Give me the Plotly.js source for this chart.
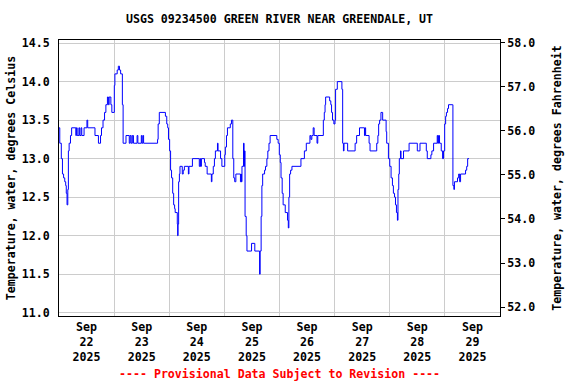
<!DOCTYPE html>
<html>
<head>
<meta charset="utf-8">
<script src="https://cdn.plot.ly/plotly-3.0.1.min.js"></script>
<style>
html,body{margin:0;padding:0;background:#ffffff;}
#chart{width:576px;height:384px;}
</style>
</head>
<body>
<div id="chart"></div>
<script>
const times = [
"2025-09-22 00:00","2025-09-22 00:20","2025-09-22 01:00","2025-09-22 01:30","2025-09-22 02:00","2025-09-22 02:30","2025-09-22 02:55","2025-09-22 03:10","2025-09-22 03:30","2025-09-22 03:50","2025-09-22 04:05","2025-09-22 04:25","2025-09-22 05:00","2025-09-22 05:30","2025-09-22 07:20","2025-09-22 07:35","2025-09-22 07:55","2025-09-22 08:40","2025-09-22 09:00","2025-09-22 09:35","2025-09-22 09:55","2025-09-22 10:55","2025-09-22 12:10","2025-09-22 12:30","2025-09-22 15:40","2025-09-22 17:10","2025-09-22 18:05","2025-09-22 18:30","2025-09-22 19:10","2025-09-22 19:50","2025-09-22 20:25","2025-09-22 21:05","2025-09-22 21:30","2025-09-22 21:50","2025-09-22 22:35","2025-09-22 23:00",
"2025-09-23 00:05","2025-09-23 00:20","2025-09-23 01:20","2025-09-23 01:50","2025-09-23 02:20","2025-09-23 02:50","2025-09-23 03:35","2025-09-23 03:55","2025-09-23 05:10","2025-09-23 06:35","2025-09-23 07:00","2025-09-23 07:25","2025-09-23 07:55","2025-09-23 08:25","2025-09-23 10:00","2025-09-23 10:20","2025-09-23 11:50","2025-09-23 12:05","2025-09-23 12:30","2025-09-23 12:50","2025-09-23 18:55","2025-09-23 19:10","2025-09-23 19:40","2025-09-23 22:20","2025-09-23 22:55","2025-09-23 23:20","2025-09-23 23:40",
"2025-09-24 00:10","2025-09-24 00:35","2025-09-24 01:00","2025-09-24 01:30","2025-09-24 01:55","2025-09-24 02:20","2025-09-24 02:35","2025-09-24 03:30","2025-09-24 03:40","2025-09-24 03:50","2025-09-24 04:05","2025-09-24 04:25","2025-09-24 04:40","2025-09-24 05:40","2025-09-24 06:05","2025-09-24 06:35","2025-09-24 08:20","2025-09-24 08:35","2025-09-24 10:05","2025-09-24 13:05","2025-09-24 13:30","2025-09-24 13:40","2025-09-24 14:00","2025-09-24 15:20","2025-09-24 15:40","2025-09-24 16:30","2025-09-24 18:20","2025-09-24 18:35","2025-09-24 19:10","2025-09-24 19:40","2025-09-24 20:05","2025-09-24 21:00","2025-09-24 21:15","2025-09-24 22:20","2025-09-24 22:55",
"2025-09-25 00:10","2025-09-25 00:25","2025-09-25 00:55","2025-09-25 01:20","2025-09-25 02:35","2025-09-25 03:05","2025-09-25 03:40","2025-09-25 04:05","2025-09-25 04:30","2025-09-25 05:00","2025-09-25 07:00","2025-09-25 07:20","2025-09-25 07:25","2025-09-25 07:40","2025-09-25 08:20","2025-09-25 08:35","2025-09-25 08:45","2025-09-25 09:00","2025-09-25 09:30","2025-09-25 09:50","2025-09-25 11:50","2025-09-25 13:15","2025-09-25 15:20","2025-09-25 15:35","2025-09-25 16:00","2025-09-25 16:20","2025-09-25 16:40","2025-09-25 17:30","2025-09-25 17:55","2025-09-25 18:30","2025-09-25 18:55","2025-09-25 19:25","2025-09-25 19:55","2025-09-25 22:50","2025-09-25 23:25","2025-09-25 23:55",
"2025-09-26 00:20","2025-09-26 00:40","2025-09-26 01:10","2025-09-26 01:35","2025-09-26 02:30","2025-09-26 03:30","2025-09-26 03:50","2025-09-26 04:05","2025-09-26 04:25","2025-09-26 04:50","2025-09-26 05:25","2025-09-26 09:20","2025-09-26 10:50","2025-09-26 11:40","2025-09-26 13:15","2025-09-26 13:40","2025-09-26 14:05","2025-09-26 14:40","2025-09-26 15:05","2025-09-26 16:20","2025-09-26 16:40","2025-09-26 19:05","2025-09-26 19:30","2025-09-26 19:50","2025-09-26 20:05","2025-09-26 21:50","2025-09-26 22:20","2025-09-26 22:40","2025-09-26 23:05","2025-09-26 23:40",
"2025-09-27 00:10","2025-09-27 00:25","2025-09-27 01:10","2025-09-27 03:10","2025-09-27 03:30","2025-09-27 03:50","2025-09-27 04:05","2025-09-27 05:40","2025-09-27 08:55","2025-09-27 09:35","2025-09-27 10:50","2025-09-27 13:00","2025-09-27 13:15","2025-09-27 13:30","2025-09-27 15:00","2025-09-27 15:25","2025-09-27 18:20","2025-09-27 18:50","2025-09-27 19:10","2025-09-27 19:35","2025-09-27 20:10","2025-09-27 20:55","2025-09-27 22:25","2025-09-27 22:40","2025-09-27 23:25",
"2025-09-28 00:00","2025-09-28 00:35","2025-09-28 01:10","2025-09-28 01:35","2025-09-28 02:05","2025-09-28 02:30","2025-09-28 02:55","2025-09-28 03:20","2025-09-28 03:35","2025-09-28 03:55","2025-09-28 04:10","2025-09-28 04:40","2025-09-28 04:55","2025-09-28 06:00","2025-09-28 08:25","2025-09-28 12:00","2025-09-28 13:10","2025-09-28 15:55","2025-09-28 16:20","2025-09-28 17:55","2025-09-28 18:20","2025-09-28 19:05","2025-09-28 20:40","2025-09-28 20:55","2025-09-28 21:15","2025-09-28 21:40","2025-09-28 22:25","2025-09-28 23:00","2025-09-28 23:25","2025-09-28 23:55",
"2025-09-29 00:20","2025-09-29 00:40","2025-09-29 01:10","2025-09-29 01:35","2025-09-29 03:25","2025-09-29 03:30","2025-09-29 03:55","2025-09-29 04:10","2025-09-29 05:30","2025-09-29 06:00","2025-09-29 06:25","2025-09-29 06:50","2025-09-29 09:00","2025-09-29 09:30","2025-09-29 09:55","2025-09-29 10:30"
];

// Water temperature, degrees Celsius
const tempC = [
13.4,13.2,13.0,12.8,12.75,12.7,12.65,12.55,12.4,12.6,13.1,13.2,13.3,13.4,13.3,13.4,13.3,13.4,13.3,13.4,13.3,13.4,13.5,13.4,13.3,13.2,13.3,13.4,13.5,13.6,13.7,13.8,13.7,13.8,13.7,13.6,
13.95,14.1,14.15,14.2,14.15,14.1,13.7,13.2,13.3,13.2,13.3,13.2,13.3,13.2,13.3,13.2,13.3,13.2,13.3,13.2,13.25,13.45,13.6,13.55,13.45,13.4,13.25,
13.1,12.85,12.75,12.55,12.4,12.35,12.3,12.15,12.0,12.15,12.7,12.8,12.9,12.8,12.85,12.9,12.8,12.9,13.0,12.9,13.0,12.9,13.0,12.95,12.9,12.8,12.7,12.8,12.9,13.0,13.1,13.2,13.1,13.0,12.9,
13.05,13.15,13.3,13.4,13.45,13.5,13.0,12.75,12.7,12.8,12.7,12.8,12.7,12.9,13.2,12.9,13.1,12.25,12.0,11.8,11.9,11.8,11.5,11.8,12.25,12.65,12.8,12.85,12.9,13.0,13.1,13.2,13.3,13.25,13.2,13.05,
12.95,12.75,12.55,12.4,12.3,12.2,12.1,12.5,12.8,12.85,12.9,13.0,13.1,13.2,13.3,13.25,13.3,13.4,13.3,13.2,13.3,13.5,13.6,13.7,13.8,13.75,13.7,13.6,13.5,13.45,
13.5,13.9,14.0,13.9,13.2,13.1,13.2,13.1,13.2,13.3,13.4,13.3,13.4,13.3,13.2,13.1,13.2,13.3,13.45,13.5,13.6,13.5,13.35,13.2,13.0,
12.9,12.75,12.65,12.55,12.5,12.4,12.3,12.2,12.6,12.8,13.0,13.1,13.0,13.1,13.2,13.1,13.2,13.1,13.0,13.05,13.1,13.2,13.3,13.2,13.3,13.2,13.1,13.0,13.1,13.45,
13.55,13.6,13.65,13.7,13.7,12.65,12.6,12.7,12.75,12.8,12.7,12.8,12.85,12.9,13.0,13.0
];

// Axis ticks
const celsiusTicks = [11.0, 11.5, 12.0, 12.5, 13.0, 13.5, 14.0, 14.5];
const fahrenheitTicks = [52.0, 53.0, 54.0, 55.0, 56.0, 57.0, 58.0];

const titleText = "USGS 09234500 GREEN RIVER NEAR GREENDALE, UT";
const leftTitle = "Temperature, water, degrees Celsius";
const rightTitle = "Temperature, water, degrees Fahrenheit";
const noteText = "---- Provisional Data Subject to Revision ----";

const FONT = {family: "'DejaVu Sans Mono', 'Liberation Mono', monospace", size: 11.6, color: "#000000", weight: "bold"};
const GRID = "#cccccc";

const traces = [
  {
    x: times, y: tempC, type: "scatter", mode: "lines",
    line: {color: "#0000ff", width: 1, shape: "hv"},
    hoverinfo: "x+y", showlegend: false
  },
  {
    x: [], y: [], type: "scatter", mode: "lines", yaxis: "y2",
    showlegend: false, hoverinfo: "skip"
  }
];

const layout = {
  width: 576, height: 384,
  paper_bgcolor: "#ffffff", plot_bgcolor: "#ffffff",
  margin: {l: 58.5, r: 76, t: 40, b: 67.5, pad: 0},
  font: FONT,
  showlegend: false,
  title: {text: titleText, font: FONT, x: 0.5, xref: "paper", xanchor: "center",
          y: 1 - 19/384, yref: "container", yanchor: "middle"},
  xaxis: {
    type: "date",
    range: ["2025-09-22 00:00", "2025-09-30 00:00"],
    tick0: "2025-09-22", dtick: 86400000,
    ticklabelmode: "period",
    tickformat: "%b<br>%d<br>%Y",
    ticks: "", showgrid: true, gridcolor: GRID, gridwidth: 1,
    showline: true, linecolor: "#000000", linewidth: 1, mirror: true,
    zeroline: false, tickfont: FONT, automargin: false
  },
  yaxis: {
    range: [10.957, 14.54],
    tickmode: "array", tickvals: celsiusTicks, tickformat: ".1f",
    ticks: "", ticklabelstandoff: 6,
    showgrid: true, gridcolor: GRID, gridwidth: 1,
    showline: true, linecolor: "#000000", linewidth: 1, mirror: true,
    zeroline: false, tickfont: FONT, automargin: false,
    title: {text: leftTitle, font: FONT, standoff: 3}
  },
  yaxis2: {
    overlaying: "y", side: "right",
    range: [51.80, 58.057],
    tickmode: "array", tickvals: fahrenheitTicks, tickformat: ".1f",
    ticks: "outside", ticklen: 4, tickwidth: 1, tickcolor: "#000000",
    showgrid: false, showline: false, zeroline: false,
    tickfont: FONT, automargin: false,
    title: {text: rightTitle, font: FONT, standoff: 18}
  },
  annotations: [
    {text: noteText, xref: "paper", yref: "paper", x: 0.5, y: (316.5 - 375) / 276.5,
     xanchor: "center", yanchor: "middle", showarrow: false,
     font: {family: FONT.family, size: 11.6, color: "#ff0000", weight: "bold"}}
  ]
};

Plotly.newPlot("chart", traces, layout, {staticPlot: true, displayModeBar: false});
</script>
</body>
</html>
